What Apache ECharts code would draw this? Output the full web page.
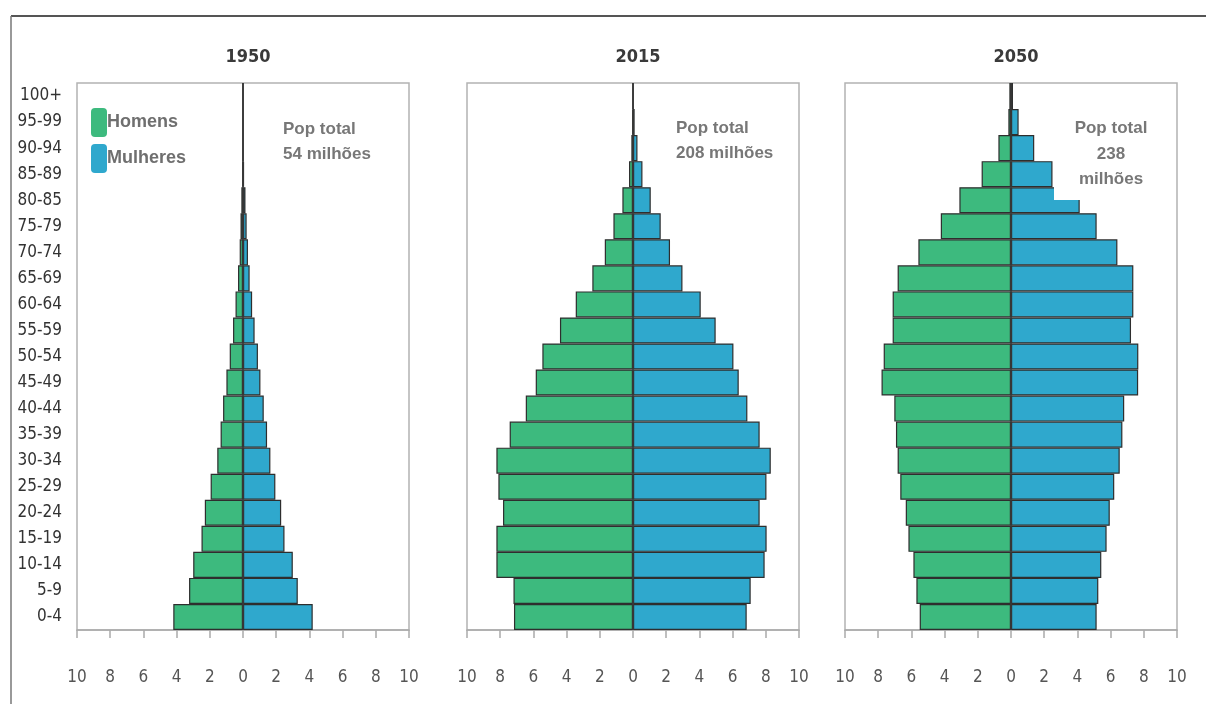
<!DOCTYPE html>
<html>
<head>
<meta charset="utf-8">
<script src="https://cdn.jsdelivr.net/npm/echarts@6/dist/echarts.min.js"></script>
<style>html,body{margin:0;padding:0;background:#fff;}#c{width:1206px;height:704px;}</style>
</head>
<body>
<div id="c"></div>
<script>
const ages = ['0-4','5-9','10-14','15-19','20-24','25-29','30-34','35-39','40-44','45-49','50-54','55-59','60-64','65-69','70-74','75-79','80-85','85-89','90-94','95-99','100+'];
const years = ['1950','2015','2050'];
const popLabels = [['Pop total','54 milhões'],['Pop total','208 milhões'],['Pop total','238','milhões']];
const men1950 = [4.2,3.25,3.0,2.5,2.3,1.95,1.55,1.35,1.2,1.0,0.8,0.6,0.45,0.3,0.2,0.15,0.1,0.04,0,0,0];
const women1950 = [4.2,3.3,3.0,2.5,2.3,1.95,1.65,1.45,1.25,1.05,0.9,0.7,0.55,0.4,0.3,0.22,0.15,0.06,0,0,0];
const men2015 = [7.17,7.2,8.23,8.23,7.83,8.11,8.23,7.43,6.46,5.86,5.46,4.4,3.45,2.45,1.7,1.18,0.64,0.24,0.1,0.04,0.01];
const women2015 = [6.85,7.09,7.93,8.05,7.63,8.04,8.3,7.63,6.89,6.37,6.05,4.98,4.08,2.98,2.23,1.67,1.07,0.57,0.27,0.1,0.02];
const men2050 = [5.5,5.7,5.88,6.18,6.34,6.67,6.83,6.93,7.03,7.8,7.67,7.13,7.13,6.83,5.58,4.23,3.11,1.77,0.76,0.16,0.1];
const women2050 = [5.16,5.26,5.44,5.76,5.95,6.22,6.55,6.71,6.82,7.66,7.67,7.23,7.37,7.37,6.41,5.16,4.14,2.5,1.4,0.46,0.12];
const xTicks = [-10,-8,-6,-4,-2,0,2,4,6,8,10];

const menAll = [men1950, men2015, men2050];
const womenAll = [women1950, women2015, women2050];
const GREEN = '#3dba7e', BLUE = '#2fa8cd';
const narrow = "'Liberation Sans Narrow', 'DejaVu Sans Condensed', sans-serif";
const gridLefts = [77, 467, 845];
const gridW = 332;

const chart = echarts.init(document.getElementById('c'));
const grids = [], xAxes = [], yAxes = [], series = [], titles = [];
for (let i = 0; i < 3; i++) {
  grids.push({left: gridLefts[i], width: gridW, top: 83, bottom: 74, show: true, borderColor: '#b3b3b3', borderWidth: 1.5, backgroundColor: 'transparent'});
  xAxes.push({type: 'value', gridIndex: i, min: xTicks[0], max: xTicks[xTicks.length - 1], interval: 2,
    axisLine: {show: true, lineStyle: {color: '#aaaaaa', width: 1.5}},
    axisTick: {show: true, inside: false, length: 8, lineStyle: {color: '#aaaaaa', width: 1.5}},
    splitLine: {show: false},
    axisLabel: {margin: 39, fontSize: 17, color: '#555', fontFamily: narrow, formatter: v => String(Math.abs(v))}});
  yAxes.push({type: 'category', gridIndex: i, data: ages,
    axisLine: {show: false}, axisTick: {show: false}, splitLine: {show: false},
    axisLabel: {show: i === 0, margin: 15, fontSize: 17, color: '#333', fontFamily: narrow, interval: 0}});
  series.push({name: 'Homens', type: 'bar', xAxisIndex: i, yAxisIndex: i, barWidth: '100%', barGap: '-100%',
    data: menAll[i].map(v => -v), itemStyle: {color: GREEN, borderColor: '#2e2e2e', borderWidth: 1.2}, silent: true,
    markLine: {silent: true, symbol: 'none', label: {show: false}, lineStyle: {color: '#3a3a3a', width: 1.5, type: 'solid'}, data: [{xAxis: 0}]}});
  series.push({name: 'Mulheres', type: 'bar', xAxisIndex: i, yAxisIndex: i, barWidth: '100%', barGap: '-100%',
    data: womenAll[i].slice(), itemStyle: {color: BLUE, borderColor: '#2e2e2e', borderWidth: 1.2}, silent: true});
  titles.push({text: years[i], left: gridLefts[i] + gridW / 2, top: 43, textAlign: 'center',
    textStyle: {fontSize: 18, fontWeight: 'bold', color: '#3a3a3a', fontFamily: narrow}});
}

const popFont = "bold 17px 'Liberation Sans Narrow', 'Liberation Sans', Arial, sans-serif";
const graphics = [
  {type: 'line', shape: {x1: 11, y1: 16, x2: 1206, y2: 16}, style: {stroke: '#555', lineWidth: 2}, z: 100},
  {type: 'line', shape: {x1: 11, y1: 16, x2: 11, y2: 704}, style: {stroke: '#777', lineWidth: 1.5}, z: 100},
  {type: 'text', x: 283, y: 117, z: 100, style: {text: popLabels[0].join('\n'), font: popFont, fill: '#777', lineHeight: 25, textAlign: 'left'}},
  {type: 'text', x: 676, y: 116, z: 100, style: {text: popLabels[1].join('\n'), font: popFont, fill: '#777', lineHeight: 25, textAlign: 'left'}},
  {type: 'rect', shape: {x: 1054, y: 104, width: 116, height: 96}, style: {fill: '#fff'}, z: 99},
  {type: 'text', x: 1111, y: 116, z: 100, style: {text: popLabels[2].join('\n'), font: popFont, fill: '#777', lineHeight: 25.5, textAlign: 'center'}}
];

chart.setOption({
  animation: false,
  backgroundColor: '#fff',
  title: titles,
  legend: {data: ['Homens', 'Mulheres'], orient: 'vertical', left: 86, top: 103, itemWidth: 16, itemHeight: 29, itemGap: 7,
    icon: 'roundRect', selectedMode: false, itemStyle: {borderWidth: 0},
    textStyle: {fontSize: 18, fontWeight: 'bold', color: '#6f6f6f', padding: [0, 0, 0, -5], fontFamily: "'Liberation Sans', Arial, sans-serif"}},
  grid: grids, xAxis: xAxes, yAxis: yAxes, series: series, graphic: graphics
});
</script>
</body>
</html>
